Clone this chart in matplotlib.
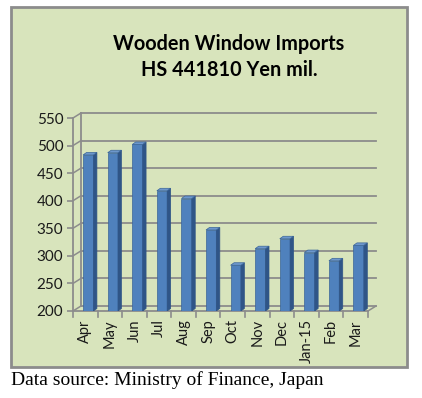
import matplotlib
matplotlib.use("Agg")
import matplotlib.pyplot as plt
from matplotlib.patches import Rectangle, Polygon
from matplotlib.transforms import offset_copy

months = ["Apr", "May", "Jun", "Jul", "Aug", "Sep", "Oct", "Nov", "Dec", "Jan-15", "Feb", "Mar"]
imports = [483, 487, 502, 418, 404, 347, 283, 313, 331, 306, 291, 319]
yticks = [200, 250, 300, 350, 400, 450, 500, 550]

W, H = 422, 398
fig = plt.figure(figsize=(W / 100, H / 100), dpi=100)
fig.patch.set_facecolor("white")

# green chart frame
frame = Rectangle((11 / W, 1 - 367 / H), 396 / W, 360 / H, transform=fig.transFigure,
                  facecolor="#d8e4bc", edgecolor="#8c8c8c", linewidth=2, zorder=-5)
fig.patches.append(frame)

fig.text(229 / W, 1 - 44 / H, "Wooden Window Imports", ha="center", va="center",
         fontsize=14.3, fontweight="bold", family="Lato")
fig.text(229 / W, 1 - 70 / H, "HS 441810 Yen mil.", ha="center", va="center",
         fontsize=14.3, fontweight="bold", family="Lato")

ax = fig.add_axes([73 / W, 1 - 311 / H, 295 / W, 193 / H])
ax.set_zorder(2)
ax.set_facecolor("none")
ax.set_xlim(-0.5, len(months) - 0.5)
ax.set_ylim(200, 550)

# back wall gridlines, shifted for the 3D look
dx, dy = 8, 5
px = ax.transData.transform((1, 0))[0] - ax.transData.transform((0, 0))[0]
sx_d = dx / px
sy_d = 350 * dy / 193
back = offset_copy(ax.transData, fig=fig, x=dx, y=dy, units="dots")
for v in yticks:
    ax.plot([-0.5, len(months) - 0.5], [v, v], color="#8c8c8c", lw=1.3,
            transform=back, clip_on=False, zorder=1)
    # left wall diagonal
    ax.plot([-0.5, -0.5 + sx_d], [v, v + sy_d], color="#8c8c8c", lw=1.1, clip_on=False, zorder=1)
ax.plot([-0.5, -0.5], [200, 550], color="#8c8c8c", lw=1.3, transform=back, clip_on=False)
# floor right edge
ax.plot([len(months) - 0.5, len(months) - 0.5 + sx_d], [200, 200 + sy_d], color="#8c8c8c",
        lw=1.1, clip_on=False, zorder=1)

# bars with a darker side and top face
bw = 0.42
sx = 3.5 / px
sy = 350 * 2.5 / 193
for i, v in enumerate(imports):
    x0 = i - bw / 2 + 0.12
    ax.add_patch(Rectangle((x0, 200), bw, v - 200, facecolor="#4f81bd",
                           edgecolor="#3a6598", lw=0.5, zorder=3))
    ax.add_patch(Polygon([(x0 + bw, 200), (x0 + bw + sx, 200 + sy), (x0 + bw + sx, v + sy), (x0 + bw, v)],
                         closed=True, facecolor="#2f5587", edgecolor="#2f5587", lw=0.5, zorder=3))
    ax.add_patch(Polygon([(x0, v), (x0 + bw, v), (x0 + bw + sx, v + sy), (x0 + sx, v + sy)],
                         closed=True, facecolor="#6d97cc", edgecolor="#3a6598", lw=0.5, zorder=3))

# floor front edge
ax.plot([-0.5, len(months) - 0.5], [200, 200], color="#8c8c8c", lw=1.3, clip_on=False, zorder=2)

for s in ["top", "right", "bottom"]:
    ax.spines[s].set_visible(False)
ax.spines["left"].set_color("#8c8c8c")
ax.spines["left"].set_linewidth(1.3)

ax.set_yticks(yticks)
ax.set_yticklabels([str(v) for v in yticks], family="Lato", fontsize=11, color="#1a1a1a")
ax.set_xticks(range(len(months)))
ax.set_xticklabels(months, rotation=90, family="Lato", fontsize=10.5, color="#1a1a1a")
ax.tick_params(axis="y", length=4, color="#8c8c8c", width=1.2, pad=3)
ax.tick_params(axis="x", length=0, pad=6)
for k in range(len(months) + 1):
    ax.plot([k - 0.5, k - 0.5], [200, 189], color="#8c8c8c", lw=1.2, clip_on=False)

fig.text(11 / W, 1 - 385 / H, "Data source: Ministry of Finance, Japan", ha="left",
         va="baseline", fontsize=14, family="Liberation Serif")

fig.savefig("out.png", dpi=100)
